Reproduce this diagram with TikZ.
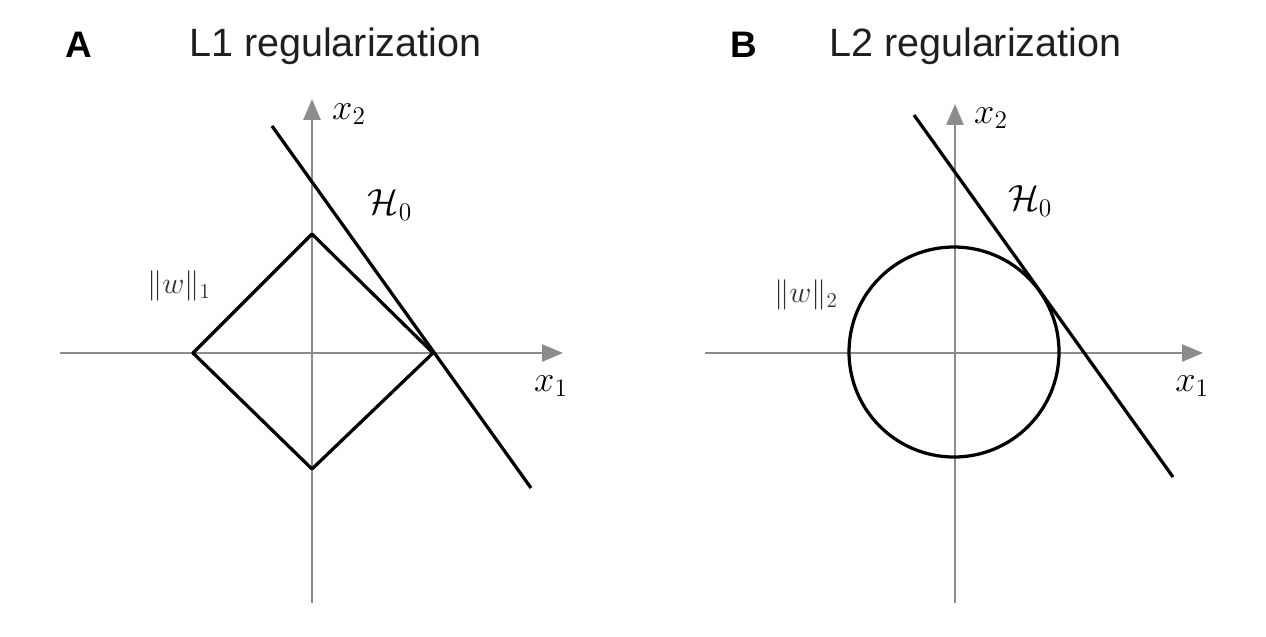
\documentclass[tikz,border=0pt]{standalone}
\usepackage{amsmath,amssymb}
\usepackage{fontspec}
\setsansfont{Liberation Sans}
\usepackage{xcolor}
\usepackage{tikz}
\usetikzlibrary{arrows.meta}

\definecolor{axgray}{HTML}{8C8C8C}
\definecolor{txtgray}{HTML}{2E2E2E}

\begin{document}
\begin{tikzpicture}[x=0.02cm,y=-0.02cm,>={Triangle[length=0.42cm,width=0.34cm]},line join=round,
  axis/.style={->,draw=axgray,line width=1.5pt},
  curve/.style={draw=black,line width=1.85pt},
  lbl/.style={font=\fontsize{19.5}{23}\selectfont},
  normlbl/.style={text=txtgray,font=\fontsize{18}{21}\selectfont},
  tag/.style={font=\sffamily\bfseries\fontsize{21}{25}\selectfont},
  title/.style={anchor=west,text=black!88,font=\sffamily\fontsize{22.5}{27}\selectfont}]
  \useasboundingbox (0,0) rectangle (1266,636);
  % panel A
  \coordinate (XL1) at (60,353);
  \coordinate (XR1) at (563,353);
  \coordinate (YB1) at (312,603);
  \coordinate (YT1) at (312,99);
  \coordinate (DL) at (193,353);
  \coordinate (DT) at (312,234);
  \coordinate (DR) at (433,353);
  \coordinate (DB) at (312,469);
  \coordinate (HA1) at (272,126);
  \coordinate (HB1) at (531,488);
  \draw[axis] (XL1) -- (XR1);
  \draw[axis] (YB1) -- (YT1);
  \draw[curve] (DL) -- (DT) -- (DR) -- (DB) -- cycle;
  \draw[curve] (HA1) -- (HB1);
  \node[lbl] (x2A) at (349,114) {$x_2$};
  \node[lbl] (x1A) at (551,386) {$x_1$};
  \node[lbl] (h0A) at (390,205) {$\mathcal{H}_0$};
  \node[normlbl] (nA) at (179,286) {$\|w\|_1$};
  \node[tag] (tagA) at (79,45) {A};
  \node[title] (titleA) at (183,46) {L1 regularization};
  % panel B
  \coordinate (XL2) at (705,353);
  \coordinate (XR2) at (1203,353);
  \coordinate (YB2) at (955,603);
  \coordinate (YT2) at (955,104);
  \coordinate (C) at (954,352);
  \coordinate (HA2) at (914,115);
  \coordinate (HB2) at (1173,477);
  \draw[axis] (XL2) -- (XR2);
  \draw[axis] (YB2) -- (YT2);
  \draw[curve] (C) circle (105);
  \draw[curve] (HA2) -- (HB2);
  \node[lbl] (x2B) at (991,118) {$x_2$};
  \node[lbl] (x1B) at (1192,386) {$x_1$};
  \node[lbl] (h0B) at (1030,201) {$\mathcal{H}_0$};
  \node[normlbl] (nB) at (806,295) {$\|w\|_2$};
  \node[tag] (tagB) at (744,45) {B};
  \node[title] (titleB) at (823,46) {L2 regularization};
\end{tikzpicture}
\end{document}
